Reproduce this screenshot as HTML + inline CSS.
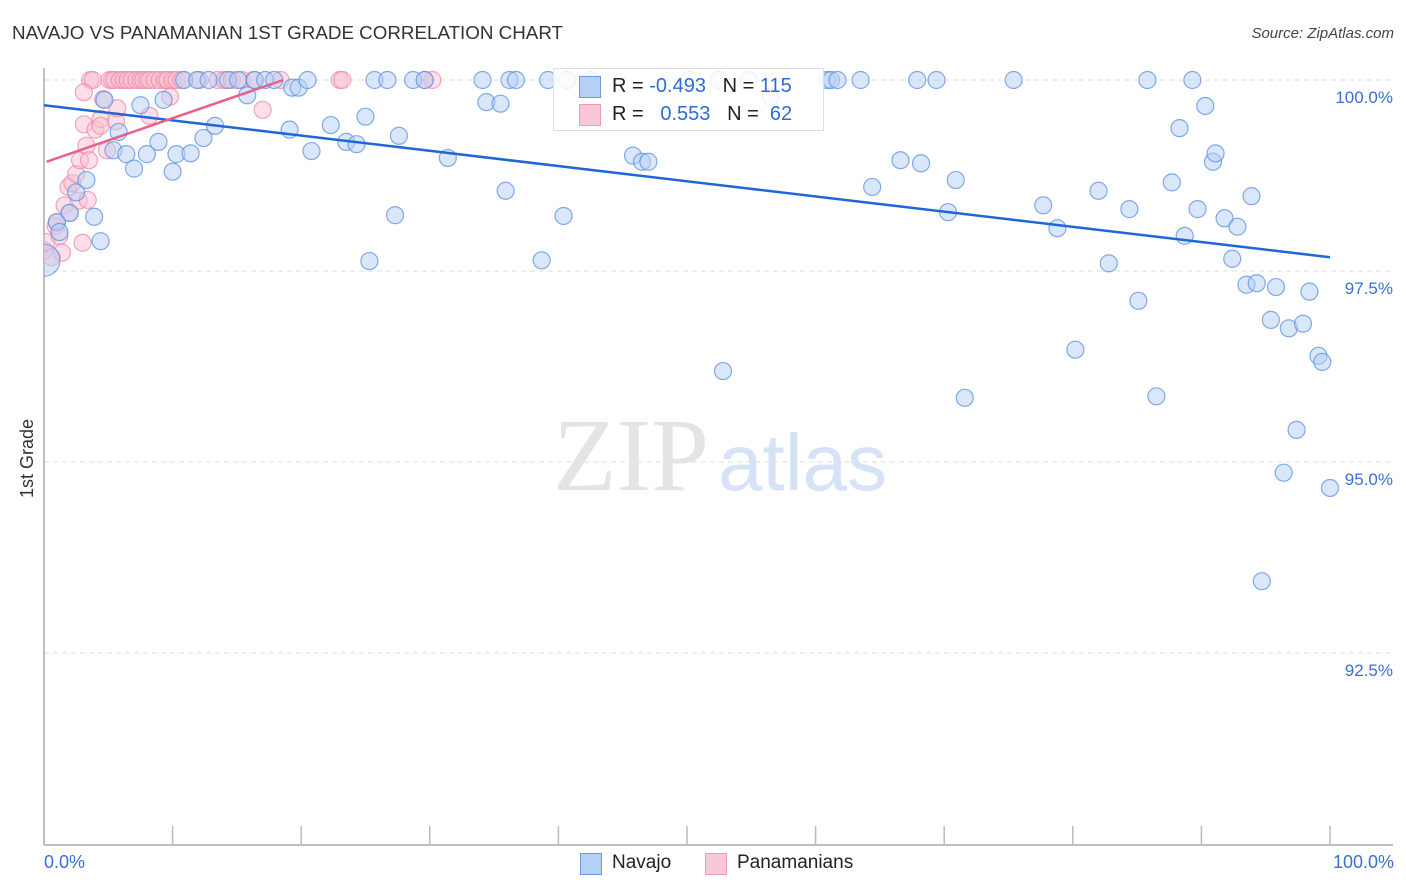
<!DOCTYPE html>
<html><head><meta charset="utf-8">
<style>
body{margin:0;background:#fff;font-family:"Liberation Sans",sans-serif;}
#wrap{position:relative;width:1406px;height:892px;overflow:hidden;}
.t{position:absolute;white-space:nowrap;}
</style></head>
<body>
<div id="wrap">
<div class="t" style="left:12px;top:22px;font-size:18.8px;color:#333;">NAVAJO VS PANAMANIAN 1ST GRADE CORRELATION CHART</div>
<div class="t" style="right:12px;top:25px;font-size:15px;color:#444;font-style:italic;">Source: ZipAtlas.com</div>
<svg id="svg" width="1406" height="892" style="position:absolute;left:0;top:0;"><defs><clipPath id="pc"><rect x="44" y="60" width="1360" height="785"/></clipPath></defs></svg>
</div>
<script>
const yTicks=[100,97.5,95,92.5];
const yTickLabels=["100.0%","97.5%","95.0%","92.5%"];
const xTickVals=[0,10,20,30,40,50,60,70,80,90,100];
const navajoX=[0,1.0,1.2,2.0,2.5,3.3,3.9,4.4,4.7,5.4,5.8,6.4,7.0,7.5,8.0,8.9,9.3,10.0,10.3,10.9,11.4,11.9,12.4,12.8,13.3,14.3,15.1,15.8,16.4,17.2,17.9,19.1,19.3,19.8,20.5,20.8,22.3,23.5,24.3,25.0,25.3,25.7,26.7,27.3,27.6,28.7,29.6,31.4,34.1,34.4,35.5,35.9,36.2,36.7,38.7,39.2,40.4,40.7,42.5,45.8,46.5,47.0,50.2,52.5,52.8,54.8,56.5,60.9,61.2,61.7,63.5,64.4,66.6,67.9,68.2,69.4,70.3,70.9,71.6,75.4,77.7,78.8,80.2,82.0,82.8,84.4,85.1,85.8,86.5,87.7,88.3,88.7,89.3,89.7,90.3,90.9,91.1,91.8,92.4,92.8,93.5,93.9,94.3,94.7,95.4,95.8,96.4,96.8,97.4,97.9,98.4,99.1,99.4,100];
const navajoY=[97.64,98.14,98.01,98.26,98.53,98.69,98.21,97.89,99.74,99.08,99.32,99.03,98.84,99.67,99.03,99.19,99.74,98.80,99.03,100,99.04,100,99.24,100,99.40,100,100,99.80,100,100,100,99.35,99.90,99.90,100,99.07,99.41,99.19,99.16,99.52,97.63,100,100,98.23,99.27,100,100,98.98,100,99.71,99.69,98.55,100,100,97.64,100,98.22,100,100,99.01,98.93,98.93,100,100,96.19,100,99.78,100,100,100,100,98.60,98.95,100,98.91,100,98.27,98.69,95.84,100,98.36,98.06,96.47,98.55,97.60,98.31,97.11,100,95.86,98.66,99.37,97.96,100,98.31,99.66,98.93,99.04,98.19,97.66,98.08,97.32,98.48,97.34,93.44,96.86,97.29,94.86,96.75,95.42,96.81,97.23,96.39,96.31,94.66];
const panX=[0,0.2,0.6,0.9,1.0,1.2,1.4,1.6,1.9,2.0,2.2,2.5,2.7,3.0,3.1,2.8,3.3,3.4,3.5,3.6,3.8,4.0,4.4,4.6,4.9,5.1,5.3,5.5,5.6,5.9,6.2,6.5,6.8,7.2,7.5,7.7,8.0,8.2,8.6,9.0,9.4,9.6,10.0,10.3,9.8,8.2,5.7,10.7,12.1,13.5,14.0,14.6,15.4,17.0,16.3,18.4,23.0,23.2,30.2,29.6,3.1,4.4];
const panY=[97.77,97.88,97.68,98.09,98.14,97.96,97.74,98.36,98.60,98.26,98.65,98.77,98.42,97.87,99.42,98.95,99.14,98.43,98.95,100,100,99.35,99.49,99.75,99.08,100,100,100,99.46,100,100,100,100,100,100,100,100,100,100,100,100,100,100,100,99.78,99.53,99.63,100,100,100,100,100,100,99.61,100,100,100,100,100,100,99.84,99.40];
const navajoTrendX=[0,100], navajoTrendY=[99.67,97.68];
const panTrendX=[0.2,18.6], panTrendY=[98.93,100];

const NS="http://www.w3.org/2000/svg";
const svg=document.getElementById('svg');
const X0=44,X1=1330,Y100=80,PXPER=76.4;
function sx(v){return X0+(X1-X0)*v/100;}
function sy(v){return Y100+(100-v)*PXPER;}
function mk(tag,attrs,parent){const e=document.createElementNS(NS,tag);for(const k in attrs)e.setAttribute(k,attrs[k]);(parent||svg).appendChild(e);return e;}

yTicks.forEach((v,i)=>{
  const g=mk('line',{x1:X0,x2:1393,y1:sy(v),y2:sy(v),stroke:'#ddd','stroke-dasharray':'5,4'});
  
  
  const t=mk('text',{x:1393,y:sy(v)+23,'text-anchor':'end','font-size':17,fill:'#3a6fd8','font-family':'Liberation Sans, sans-serif'});
  t.textContent=yTickLabels[i];
  
  
});
const wm=mk('text',{x:553,y:490,'font-size':104,fill:'#e4e4e4','font-family':'Liberation Serif, serif'});wm.textContent='ZIP';


const wm2=mk('text',{x:718,y:490,'font-size':80,fill:'#d6e2f5','font-family':'Liberation Sans, sans-serif'});wm2.textContent='atlas';


const ya=mk('line',{x1:X0,x2:X0,y1:68,y2:845,stroke:'#aaa','stroke-width':1.5});


const xa=mk('line',{x1:X0,x2:1393,y1:845,y2:845,stroke:'#aaa','stroke-width':1.5});


xTickVals.forEach(v=>{
  if(v===0)return;
  const l=mk('line',{x1:sx(v),x2:sx(v),y1:826,y2:845,stroke:'#bbb','stroke-width':1.5});
  
  
});
const grp=mk('g',{'clip-path':'url(#pc)'});


function pts(xs,ys,fill,stroke,name){
  xs.forEach((x,i)=>{
    const r=(x===0&&name==='navajo-point')?16:8.5;
    const c=mk('circle',{cx:sx(x),cy:sy(ys[i]),r:r,fill:fill,'fill-opacity':0.5,stroke:stroke,'stroke-opacity':0.75,'stroke-width':1.2},grp);
    
    
  });
}
pts(panX,panY,'#f9c0d2','#ec8aa8','panamanian-point');
pts(navajoX,navajoY,'#b5cff5','#5b8fe0','navajo-point');
const bt=mk('line',{x1:sx(navajoTrendX[0]),y1:sy(navajoTrendY[0]),x2:sx(navajoTrendX[1]),y2:sy(navajoTrendY[1]),stroke:'#1f66d6','stroke-width':2.5});


const pt=mk('line',{x1:sx(panTrendX[0]),y1:sy(panTrendY[0]),x2:sx(panTrendX[1]),y2:sy(panTrendY[1]),stroke:'#e8608c','stroke-width':2.5});


</script>
<div class="t" style="left:553px;top:68px;width:269px;height:61px;border:1px solid #ddd;background:rgba(255,255,255,0.85);font-size:20px;">
  <div style="position:absolute;left:25px;top:7px;width:20px;height:20px;background:#b5cff5;border:1px solid #6a9ae3;"></div>
  <div style="position:absolute;left:25px;top:35px;width:20px;height:20px;background:#f9c8d8;border:1px solid #ee9ab4;"></div>
  <div class="t" style="left:58px;top:6px;color:#222;">R = <span style="color:#2f6bd6">-0.493</span>&nbsp;&nbsp; N = <span style="color:#2f6bd6">115</span></div>
  <div class="t" style="left:58px;top:34px;color:#222;">R = &nbsp;&nbsp;<span style="color:#2f6bd6">0.553</span>&nbsp;&nbsp; N = &nbsp;<span style="color:#2f6bd6">62</span></div>
</div>
<div class="t" style="left:17px;top:498px;font-size:18px;color:#333;transform:rotate(-90deg);transform-origin:0 0;">1st Grade</div>
<div class="t" style="left:44px;top:852px;font-size:18px;color:#3a6fd8;">0.0%</div>
<div class="t" style="right:12px;top:852px;font-size:18px;color:#3a6fd8;">100.0%</div>
<div class="t" style="left:580px;top:853px;width:20px;height:20px;background:#b5cff5;border:1px solid #6a9ae3;"></div>
<div class="t" style="left:612px;top:852px;font-size:19px;color:#222;">Navajo</div>
<div class="t" style="left:705px;top:853px;width:20px;height:20px;background:#f9c8d8;border:1px solid #ee9ab4;"></div>
<div class="t" style="left:737px;top:852px;font-size:19px;color:#222;">Panamanians</div>
</body></html>
